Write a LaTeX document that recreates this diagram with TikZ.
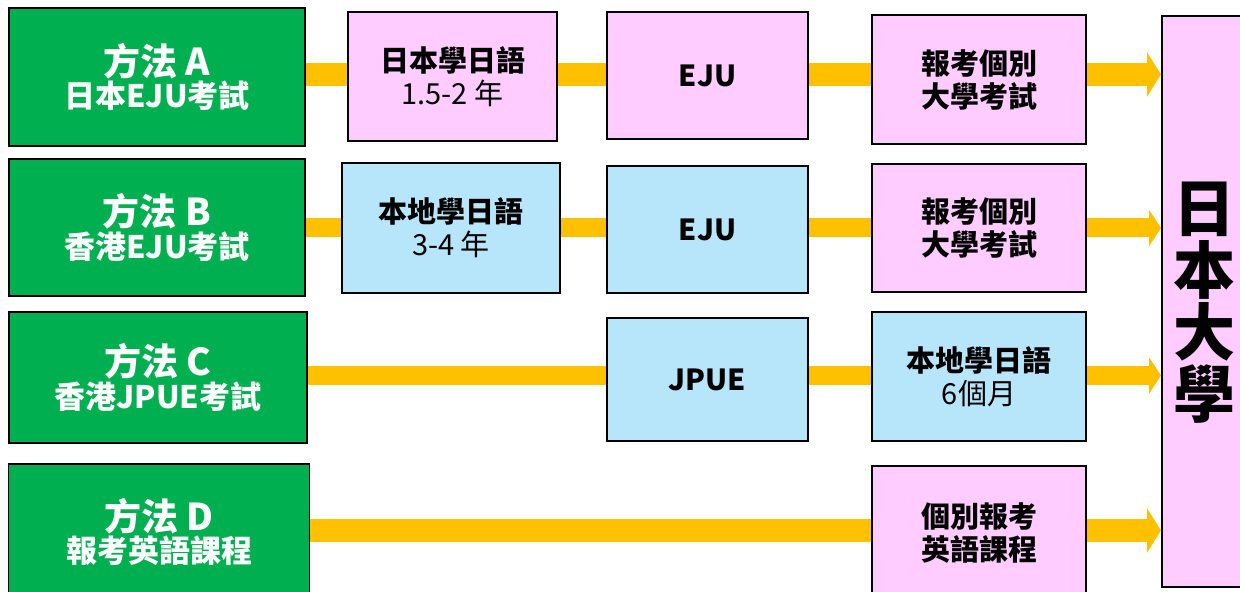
\documentclass[tikz,border=0pt]{standalone}
\usepackage{fontspec}
\setmainfont{Noto Sans CJK TC}
\usetikzlibrary{arrows.meta}

\definecolor{routegreen}{HTML}{00B050}
\definecolor{stagepink}{HTML}{FFCCFF}
\definecolor{stageblue}{HTML}{B7E6FB}
\definecolor{pathyellow}{HTML}{FFC000}

\tikzset{
    routebox/.style={draw=black, line width=0.75pt, fill=routegreen, text=white, font=\bfseries, align=center, inner sep=0pt},
    stagebox/.style={draw=black, line width=0.75pt, align=center, inner sep=0pt},
    pinkbox/.style={stagebox, fill=stagepink},
    bluebox/.style={stagebox, fill=stageblue},
    wide/.style={draw=pathyellow, line width=11.5pt},
    narrow/.style={draw=pathyellow, line width=9.5pt},
    widearrow/.style={wide, -{Triangle[width=22pt, length=7pt]}},
    narrowarrow/.style={narrow, -{Triangle[width=18pt, length=6pt]}}
}

\newcommand{\routetext}[2]{{\fontsize{18.5}{18}\selectfont #1}\\[0pt]{\fontsize{15.5}{17.5}\selectfont #2}}
\newcommand{\stagetext}[2]{{\bfseries #1}\\#2}

\begin{document}
\begin{tikzpicture}[x=0.5pt, y=-0.5pt, font=\fontsize{14.5}{16.5}\selectfont]
        \useasboundingbox (0,0) rectangle (1240,592);

        % Target column
        \node[pinkbox, line width=1pt, minimum width=44.5pt, minimum height=285.5pt, anchor=north west] (uni) at (1161,15) {};
        \node[font=\bfseries\fontsize{31}{31}\selectfont, align=center] (unitext) at (1204,303) {日\\本\\大\\學};

        % Route boxes on the left
        \node[routebox, minimum width=148pt, minimum height=69pt] (routeA) at (157,77) {\routetext{方法 A}{日本EJU考試}};
        \node[routebox, minimum width=148pt, minimum height=68.5pt] (routeB) at (157,227.5) {\routetext{方法 B}{香港EJU考試}};
        \node[routebox, minimum width=149pt, minimum height=65.5pt] (routeC) at (158,377.5) {\routetext{方法 C}{香港JPUE考試}};
        \node[routebox, minimum width=150.5pt, minimum height=68pt] (routeD) at (159,532) {\routetext{方法 D}{報考英語課程}};

        % Stages, row A
        \node[pinkbox, minimum width=104.5pt, minimum height=64.5pt] (langA) at (452.5,76.5) {\stagetext{日本學日語}{1.5-2 年}};
        \node[pinkbox, minimum width=100.5pt, minimum height=63.5pt, font=\bfseries\fontsize{14.5}{16}\selectfont] (ejuA) at (707.5,75.5) {EJU};
        \node[pinkbox, minimum width=107pt, minimum height=64.5pt, font=\bfseries\fontsize{14.5}{16.5}\selectfont] (applyA) at (979,79.5) {報考個別\\大學考試};

        % Stages, row B
        \node[bluebox, minimum width=109pt, minimum height=65pt] (langB) at (451,228) {\stagetext{本地學日語}{3-4 年}};
        \node[bluebox, minimum width=100.5pt, minimum height=63.5pt, font=\bfseries\fontsize{14.5}{16}\selectfont] (ejuB) at (707.5,229.5) {EJU};
        \node[pinkbox, minimum width=107pt, minimum height=64pt, font=\bfseries\fontsize{14.5}{16.5}\selectfont] (applyB) at (979,228) {報考個別\\大學考試};

        % Stages, row C
        \node[bluebox, minimum width=100.5pt, minimum height=61.5pt, font=\bfseries\fontsize{14.5}{16}\selectfont] (jpueC) at (707.5,379.5) {JPUE};
        \node[bluebox, minimum width=107pt, minimum height=64.5pt] (langC) at (979,376.5) {\stagetext{本地學日語}{6個月}};

        % Stages, row D
        \node[pinkbox, minimum width=107pt, minimum height=67pt, font=\bfseries\fontsize{14.5}{16.5}\selectfont] (applyD) at (979,533) {個別報考\\英語課程};

        % Yellow paths between the boxes
        \draw[wide] (routeA.east |- 0,74.5) -- (langA.west |- 0,74.5);
        \draw[wide] (langA.east |- 0,74.5) -- (ejuA.west |- 0,74.5);
        \draw[wide] (ejuA.east |- 0,74.5) -- (applyA.west |- 0,74.5);
        \draw[widearrow] (applyA.east |- 0,74.5) -- (uni.west |- 0,74.5);

        \draw[narrow] (routeB.east |- 0,228) -- (langB.west |- 0,228);
        \draw[narrow] (langB.east |- 0,228) -- (ejuB.west |- 0,228);
        \draw[narrow] (ejuB.east |- 0,228) -- (applyB.west |- 0,228);
        \draw[narrowarrow] (applyB.east |- 0,228) -- (uni.west |- 0,228);

        \draw[narrow] (routeC.east |- 0,375.5) -- (jpueC.west |- 0,375.5);
        \draw[narrow] (jpueC.east |- 0,375.5) -- (langC.west |- 0,375.5);
        \draw[narrowarrow] (langC.east |- 0,375.5) -- (uni.west |- 0,375.5);

        \draw[wide] (routeD.east |- 0,530.5) -- (applyD.west |- 0,530.5);
        \draw[widearrow] (applyD.east |- 0,530.5) -- (uni.west |- 0,530.5);

\end{tikzpicture}
\end{document}
